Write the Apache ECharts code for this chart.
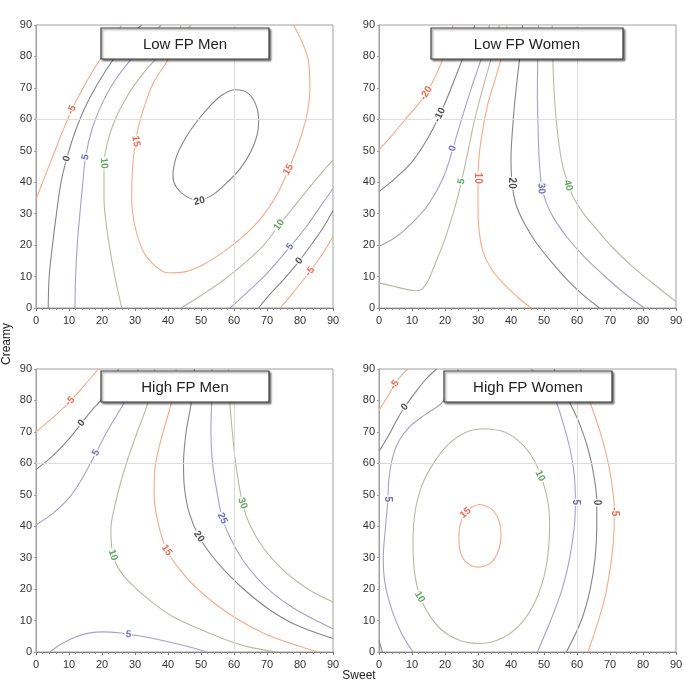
<!DOCTYPE html>
<html><head><meta charset="utf-8">
<script src="https://cdn.jsdelivr.net/npm/echarts@6/dist/echarts.min.js"></script>
<style>html,body{margin:0;padding:0;background:#fff}#c{width:686px;height:683px}</style>
</head><body><div id="c"></div>
<script>
// ---------- data ----------
const axisTicks = [0,10,20,30,40,50,60,70,80,90];
const panelTitles = ['Low FP Men','Low FP Women','High FP Men','High FP Women'];
const xAxisTitle = 'Sweet';
const yAxisTitle = 'Creamy';

// Low FP Men
const lowMenLevels = ['-5','-5','0','0','5','5','10','10','15','20'];
const lowMenPaths = [
  [[0,34.5],[2,40],[5,48],[8,56],[10.8,63],[14,69.5],[17,75],[20,80],[23,85],[26,90]],
  [[74,0],[78,5],[83,11.6],[87,17.5],[90,22.8]],
  [[3.7,0],[4,10],[5,20],[6.2,30],[7.6,40],[9.3,47.5],[11.5,55],[14.5,63],[18.5,71],[24,80],[30,88],[32,90]],
  [[67.4,0],[71,4.5],[75,9],[79.8,15],[84,21],[87,25.5],[90,31]],
  [[11.8,0],[12,10],[12.5,20],[13.3,30],[14.2,40],[15,48],[17,57],[20,65],[24,72.5],[29.5,80],[35,87],[38,90]],
  [[58.8,0],[64,5],[70,11],[77,19.5],[82,26],[86,32],[90,38]],
  [[26,0],[24.5,7],[23,15],[21.5,25],[20.6,35],[20.6,45],[21.5,52],[24,60],[28,68],[32,74],[36.5,79.4],[42,85],[47,90]],
  [[44,0],[50,4],[57,9],[64,15],[69,20],[73.7,26.4],[78,32],[83,38.5],[87,43.5],[90,47]],
  [[44,90],[40.5,80],[35.5,71.5],[32.5,63],[30.5,55],[29.3,45],[29,35],[30,26],[32.5,18],[36,13.5],[40,11.2],[45,11.5],[51,14],[57,18],[63,23],[68.5,29],[73,36],[76.5,44],[79.5,52],[82,61],[83,70],[82.5,79],[80,86],[78,90]],
  [[49.5,34],[45.5,35.5],[42.5,38.5],[41.5,42],[42.5,48],[45,53.5],[48.5,59],[52.5,64],[56.5,67.8],[60.5,69.4],[64,68.5],[66.5,65],[67.5,60],[67,55],[65,49.5],[62,44.5],[58,40],[54,36.3],[49.5,34]]
];
const lowMenLabels = [
  ['-5',10.8,63,65],['0',9.3,47.5,75],['5',15,48,80],['10',20.6,46,-85],['15',30.3,53,-80],
  ['20',49.5,34,12],['15',76.5,44,60],['10',73.7,26.4,55],['5',77,19.5,52],['0',79.8,15,52],['-5',83,11.6,52]
];

// Low FP Women
const lowWomenLevels = ['-20','-10','0','5','10','20','30','40'];
const lowWomenPaths = [
  [[0,50.3],[4,55],[8,60],[11.5,64.3],[14.3,68.3],[17,73.5],[19.4,79.4],[21,85],[22.5,90]],
  [[0,37],[5,41.3],[10,46.5],[14.5,53.5],[18.4,61.4],[21.5,69],[25.4,79.4],[27.5,85],[29,90]],
  [[0,19.6],[5,22.5],[10,27],[15,33],[19.5,41.5],[22.4,50.8],[25,60],[28,70],[31,79.4],[33,88],[33.5,90]],
  [[0,7.9],[4,7],[8,6],[11,5.5],[13,6],[15,9],[17,14],[20,22],[23,32],[25,40.3],[27,50],[29,60],[31.5,70],[34,79.4],[36,88],[36.5,90]],
  [[46,0],[42,3.5],[37.5,8],[34,12.5],[31.5,18],[30.3,25],[30,33],[30,41.3],[30.5,50],[31.5,57],[33,65],[35,72],[37,79.4],[38.5,88],[38.8,90]],
  [[66.8,0],[62,4],[57,9],[52,15],[47.5,21],[44,27],[41.5,33],[40.3,39.7],[40,48],[40.4,56],[41,64],[41.8,72],[42.6,79.4],[43.5,90]],
  [[80.4,0],[74,5],[68,10.5],[62,16.5],[57,22.5],[53,28.5],[50.5,34],[49.2,39.5],[48.5,48],[48.2,58],[48,68],[48.1,79.4],[48.3,90]],
  [[90,2],[84,7],[77,13],[71,19],[66,25],[62,30],[59,35],[57.3,39.5],[55.5,46],[54.2,55],[53.3,65],[52.8,75],[52.6,85],[52.5,90]]
];
const lowWomenLabels = [
  ['-20',14.3,68.3,60],['-10',18.4,61.4,65],['0',22.4,50.8,75],['5',25,40.3,80],
  ['10',30,41.3,-90],['20',40.3,39.7,-90],['30',49.2,38,-85],['40',57.3,39,-75]
];

// High FP Men
const highMenLevels = ['-5','0','5','10','15','20','25','30','5'];
const highMenPaths = [
  [[0,70],[4,73.5],[8,77.3],[10.3,79.7],[14,84],[18.9,90]],
  [[0,58],[5,62.3],[10,67.8],[13.8,72.8],[17,77],[19.4,79.7],[22,84],[25,90]],
  [[0,40.4],[5,44],[10,49],[14,55.2],[18.2,63.4],[22,71],[26.9,79.7],[29,85],[31,90]],
  [[36,90],[34,79.7],[30,68],[26.5,57],[24,47],[22.7,39],[23.3,30.8],[26,25],[30,20.5],[35,16],[41,11.5],[48,8],[56,4.5],[64,1.7],[72.9,0]],
  [[42.5,90],[41.1,79.7],[38,68],[36,58],[35.8,50],[37,41],[39.6,32.4],[43,27],[48,21],[54,15.5],[61,10.5],[69,6],[77,2.8],[85.5,0]],
  [[48,90],[47.1,79.7],[45.5,70],[44.7,60],[45,52],[46.5,44],[49.4,36.7],[53,31],[58,25],[64,19],[71,13.3],[79,8.5],[90,4.3]],
  [[53.3,90],[53.2,79.7],[53,70],[53.5,60],[55,50],[56.5,42.5],[59,36],[62.5,29.5],[67,23.5],[72,18.5],[78,14],[84,10.5],[90,7.4]],
  [[58.3,90],[58.7,79.7],[59.5,70],[60.5,60],[62.6,47.3],[65,40],[69,33],[74,27],[79,22.5],[84,19],[90,15.9]],
  [[4.2,0],[8,2.8],[12,4.8],[16,6],[20.4,6.4],[25,6.1],[28,5.6],[32,5],[37,4],[42,2.8],[48,1.2],[51.7,0]]
];
const highMenLabels = [
  ['-5',10.3,79.7,45],['0',13.8,72.8,50],['5',18.2,63.4,60],['10',23.3,30.8,-70],['15',39.6,32.4,-55],
  ['20',49.4,36.7,-55],['25',56.5,42.5,-65],['30',62.6,47.3,-70],['5',28,5.6,-5]
];

// High FP Women
const highWomenLevels = ['-5','-5','0','0','0','5','5','10','15'];
const highWomenPaths = [
  [[0,77],[2.5,81],[4.7,85],[6.8,88],[8.8,90]],
  [[61,90],[63.8,80],[67,70],[69.5,60],[71,50],[71.3,44.6],[71.2,38],[70.5,30],[69,20],[66.8,11],[63.3,0]],
  [[0,63.8],[3,69],[5.5,74],[7.8,77.9],[11,82.5],[14,86.5],[17.4,90]],
  [[53,90],[57.5,80],[61,72],[63.5,64],[65.3,55],[66,47.5],[66,40],[65.5,30],[64,20],[61.3,10],[56.8,0]],
  [[0,3.7],[1,0]],
  [[24,90],[19.4,79.7],[14,75.5],[9.3,71.7],[6,67],[4.2,62.2],[3,55],[2.7,48.6],[2,40],[1.3,30],[1.8,22],[4,13],[6.8,6],[10.3,0]],
  [[48,0],[52,10],[55.5,20],[57.8,30],[59.2,40],[59.5,47.6],[59.2,56],[58,64],[56,72],[53.5,80],[50,86],[46,90]],
  [[32,71],[38,70],[43,66.5],[47,61],[49.7,54],[51.3,47],[51.7,40],[51.3,32],[50,24],[47.3,16],[43,9],[37.5,4.5],[31,2.7],[25,3.5],[19,7],[14.5,13],[12,19],[10.6,27],[10.3,36],[11,45],[13,53],[16.5,60],[21,66],[26.5,70],[32,71]],
  [[30.5,47],[34,45.5],[36.3,42],[37,37.5],[36.3,32.5],[34,28.5],[30,27],[26.5,28.5],[24.6,32],[24.2,37],[25,42],[27.3,45.5],[30.5,47]]
];
const highWomenLabels = [
  ['-5',4.7,85,55],['0',7.8,77.9,45],['5',2.7,48.6,-90],['10',12.3,17.5,-60],['10',48.8,56,-65],
  ['15',26.2,44.2,40],['5',59.5,47.6,-90],['0',66,47.5,-90],['-5',71.3,44.6,-90]
];

// ---------- layout & styles ----------
const GRIDS = [[36,25],[379,25],[36,369],[379,369]];
const GW = 297, GH = 283;
const BOXES = [[101,28,168,31],[431,28,192,31],[101,371,168,31],[444,371,168,31]];
const LINE_COL = ['#f3ab88','#858585','#a2a2c8','#b5baa6'];
const TEXT_COL = ['#e5472a','#1e1e1e','#4b4ba8','#3d8f3d'];
const FONT = '"Liberation Sans", Arial, Helvetica, sans-serif';

const panels = [
  {levels: lowMenLevels, paths: lowMenPaths, labels: lowMenLabels},
  {levels: lowWomenLevels, paths: lowWomenPaths, labels: lowWomenLabels},
  {levels: highMenLevels, paths: highMenPaths, labels: highMenLabels},
  {levels: highWomenLevels, paths: highWomenPaths, labels: highWomenLabels}
];

function kindOf(levels, lv) {
  const uniq = Array.from(new Set(levels.map(Number))).sort((a,b)=>a-b);
  return uniq.indexOf(Number(lv)) % 4;
}

const grid = [], xAxis = [], yAxis = [], series = [];
GRIDS.forEach((g, i) => {
  grid.push({left: g[0], top: g[1], width: GW, height: GH, show: true,
    borderColor: '#a0a0a0', borderWidth: 1, backgroundColor: '#fff'});
  xAxis.push({gridIndex: i, type: 'value', min: axisTicks[0], max: axisTicks[axisTicks.length-1], interval: 10,
    axisLine: {show: true, onZero: false, lineStyle: {color: '#808080', width: 1}},
    axisTick: {show: true, length: 3, lineStyle: {color: '#808080'}},
    minorTick: {show: true, splitNumber: 5, length: 2, lineStyle: {color: '#909090'}},
    axisLabel: {color: '#333', fontSize: 11, margin: 7, fontFamily: FONT},
    splitLine: {show: false}});
  yAxis.push({gridIndex: i, type: 'value', min: axisTicks[0], max: axisTicks[axisTicks.length-1], interval: 10,
    axisLine: {show: true, onZero: false, lineStyle: {color: '#a0a0a0', width: 1}},
    axisTick: {show: true, length: 2, lineStyle: {color: '#a0a0a0'}},
    axisLabel: {color: '#333', fontSize: 11, margin: 4, fontFamily: FONT},
    splitLine: {show: false}});
});

panels.forEach((p, i) => {
  p.paths.forEach((path, j) => {
    const k = kindOf(p.levels, p.levels[j]);
    const s = {type: 'line', xAxisIndex: i, yAxisIndex: i, data: path, smooth: 0.35,
      symbol: 'none', showSymbol: false, silent: true, animation: false, z: 3,
      lineStyle: {color: LINE_COL[k], width: 1.1}};
    if (j === 0) {
      s.markLine = {silent: true, symbol: 'none', animation: false, label: {show: false},
        lineStyle: {color: '#dcdcdc', type: 'solid', width: 1},
        data: [{xAxis: 60}, {yAxis: 60}]};
    }
    series.push(s);
  });
  series.push({type: 'scatter', xAxisIndex: i, yAxisIndex: i, symbolSize: 1, silent: true,
    animation: false, z: 5, itemStyle: {color: 'rgba(0,0,0,0)'},
    data: p.labels.map(l => ({value: [l[1], l[2]], label: {show: true, position: 'inside',
      formatter: l[0], rotate: l[3], color: TEXT_COL[kindOf(p.levels, l[0])], fontSize: 10,
      fontWeight: 'bold', fontFamily: FONT, backgroundColor: '#fff', padding: [0, 1], lineHeight: 11}}))});
});

const graphic = [];
BOXES.forEach((b, i) => {
  graphic.push({type: 'rect', z: 100, shape: {x: b[0], y: b[1], width: b[2], height: b[3]},
    style: {fill: '#fff', stroke: '#3a3a3a', lineWidth: 1.2, shadowBlur: 2, shadowOffsetX: 1.5,
      shadowOffsetY: 1.5, shadowColor: 'rgba(0,0,0,0.45)'}});
  graphic.push({type: 'text', z: 101, x: b[0] + b[2] / 2, y: b[1] + b[3] / 2 + 1,
    style: {text: panelTitles[i], fill: '#222', font: '15px ' + FONT, align: 'center', verticalAlign: 'middle'}});
});
graphic.push({type: 'text', z: 101, x: 7, y: 344, rotation: Math.PI / 2,
  style: {text: yAxisTitle, fill: '#222', font: '12px ' + FONT, align: 'center', verticalAlign: 'middle'}});
graphic.push({type: 'text', z: 101, x: 359, y: 676,
  style: {text: xAxisTitle, fill: '#222', font: '12px ' + FONT, align: 'center', verticalAlign: 'middle'}});

const chart = echarts.init(document.getElementById('c'), null, {renderer: 'canvas'});
chart.setOption({animation: false, backgroundColor: '#fff', grid, xAxis, yAxis, series, graphic});
</script></body></html>
